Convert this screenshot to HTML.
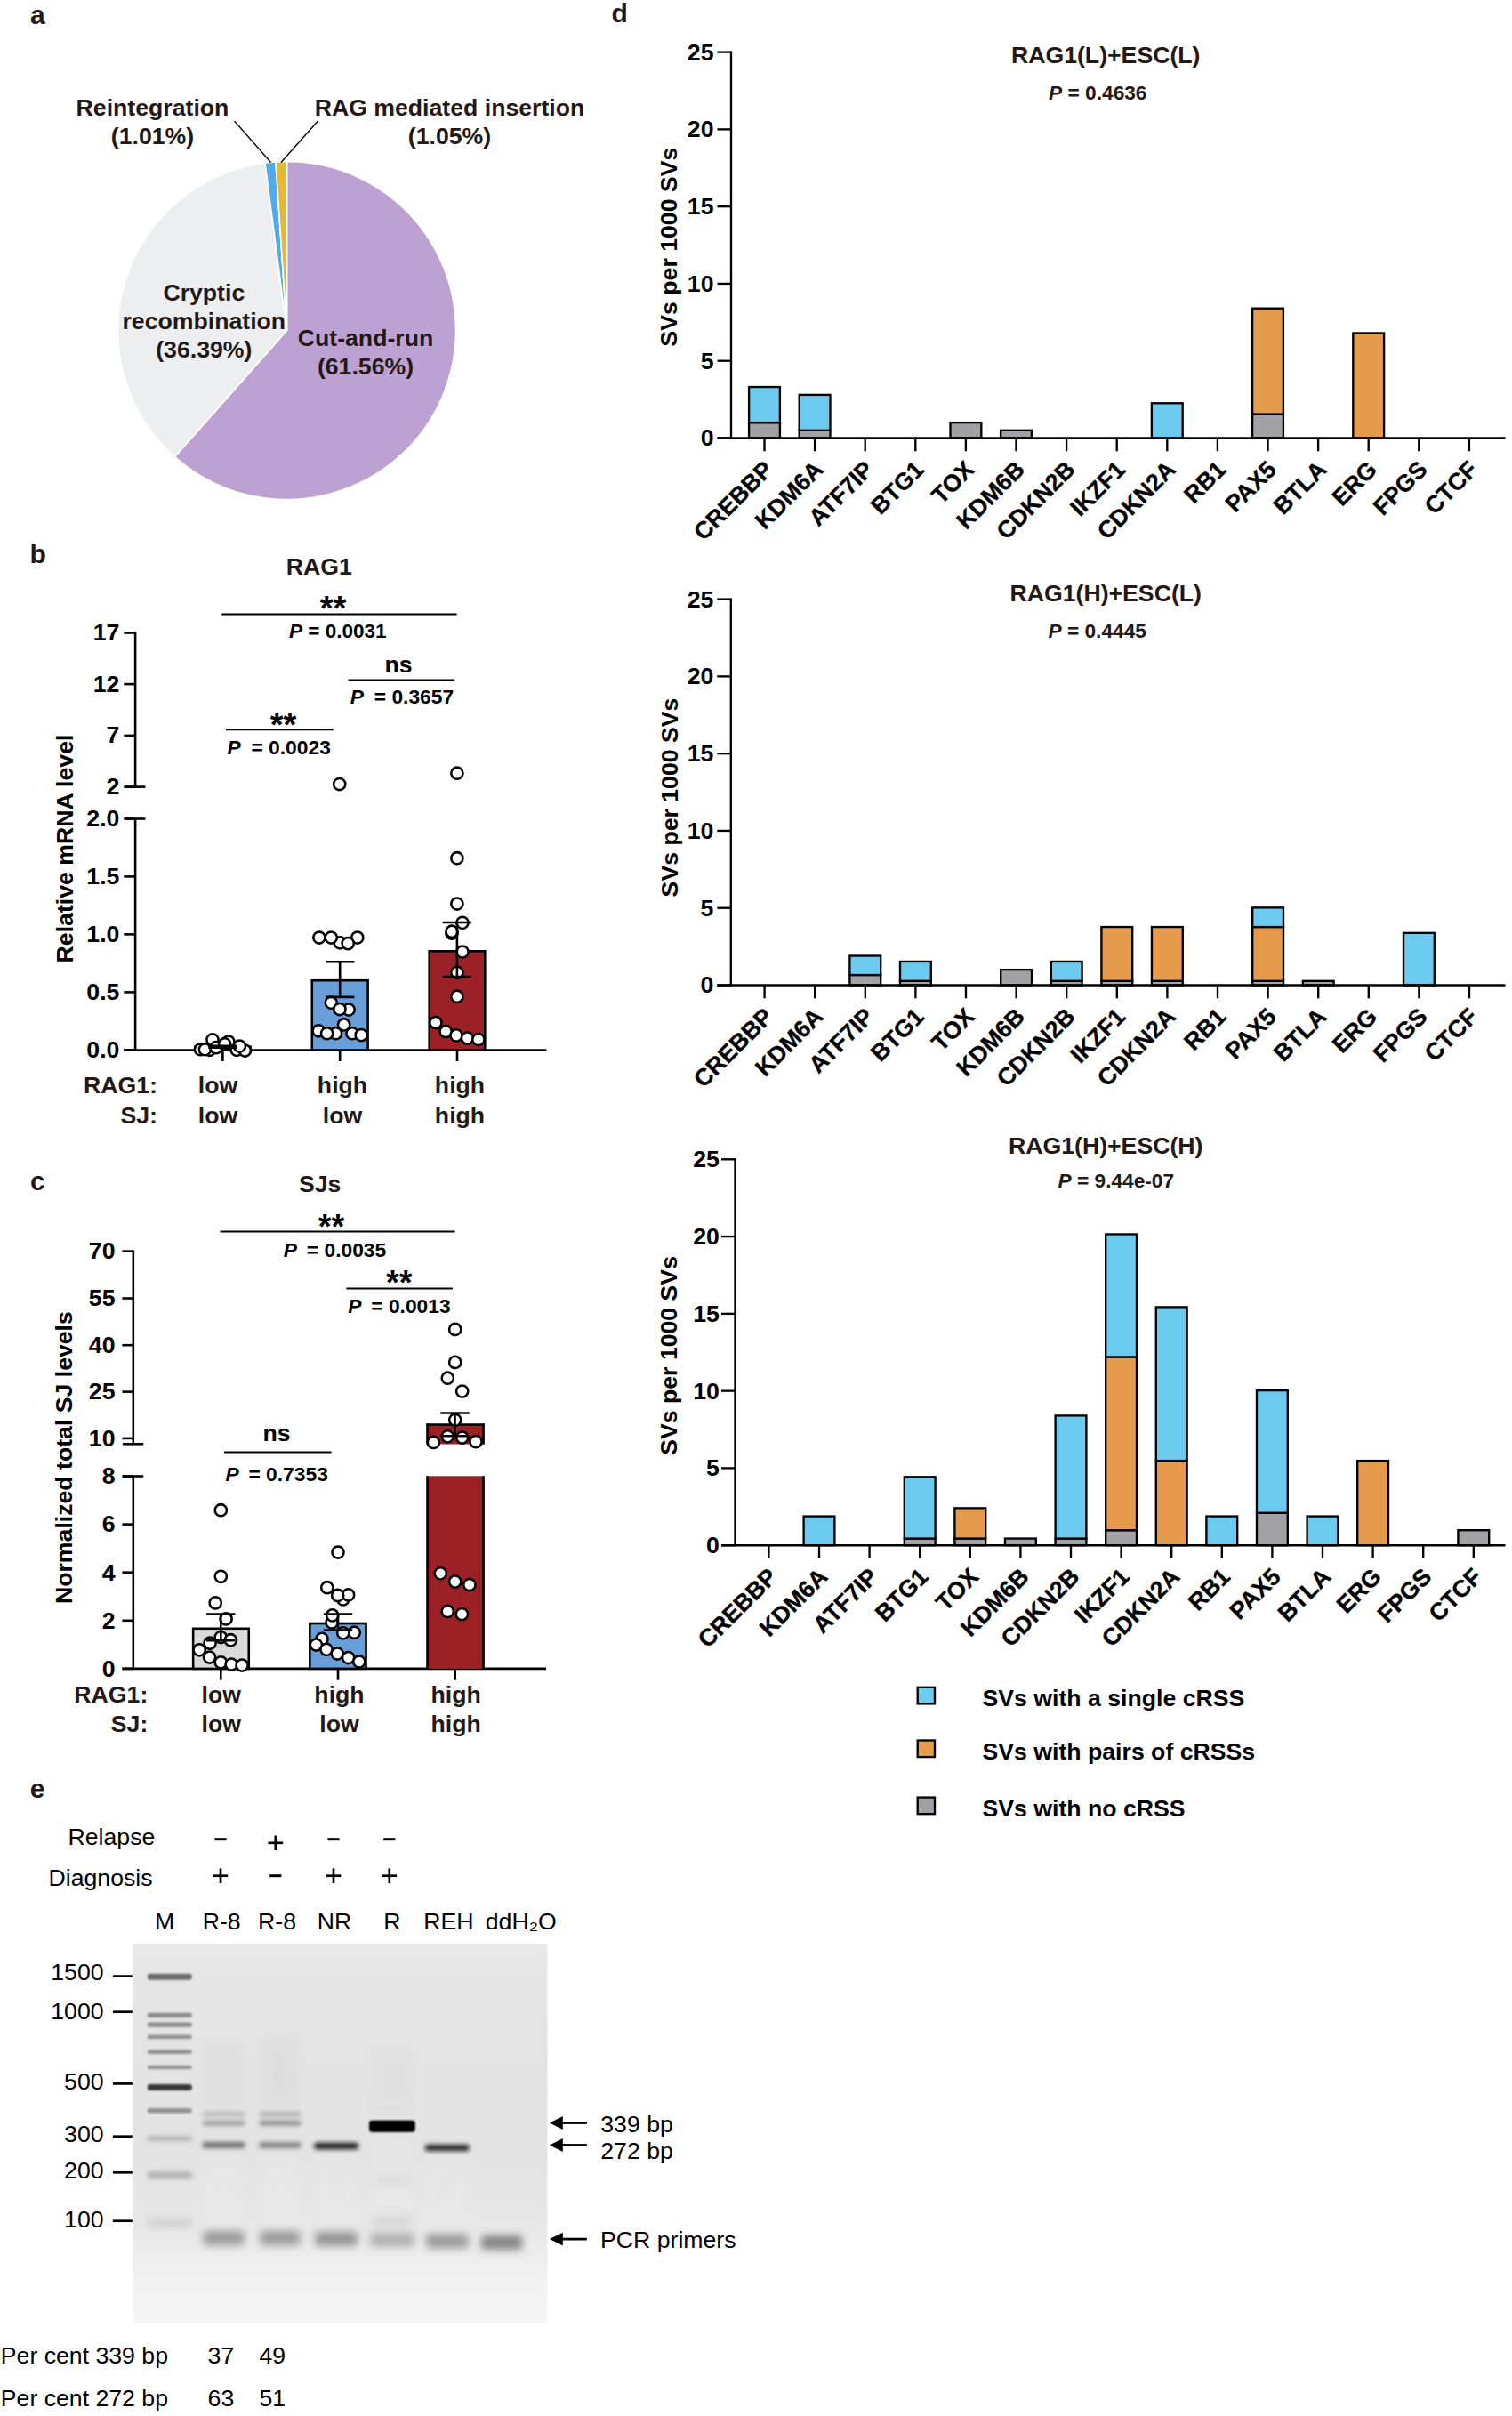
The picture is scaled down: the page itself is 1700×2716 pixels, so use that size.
<!DOCTYPE html>
<html lang="en"><head><meta charset="utf-8"><title>Figure</title>
<style>
html,body{margin:0;padding:0;background:#fff}
svg{display:block}
svg text{font-family:"Liberation Sans",sans-serif}
</style></head><body>
<svg width="1700" height="2716" viewBox="0 0 1700 2716">
<rect width="1700" height="2716" fill="#fff"/>
<text x="34.00" y="27.10" font-size="30" font-weight="bold" fill="#231815">a</text>
<text x="33.60" y="632.90" font-size="30" font-weight="bold" fill="#231815">b</text>
<text x="34.10" y="1338.40" font-size="30" font-weight="bold" fill="#231815">c</text>
<text x="687.50" y="25.20" font-size="30" font-weight="bold" fill="#231815">d</text>
<text x="33.80" y="2020.60" font-size="30" font-weight="bold" fill="#231815">e</text>
<path d="M322.5 371.5 L322.50 181.50 A190 190 0 1 1 196.37 513.60 Z" fill="#BCA1D2" stroke="#fff" stroke-width="1.6" stroke-linejoin="round"/>
<path d="M322.5 371.5 L196.37 513.60 A190 190 0 0 1 297.98 183.09 Z" fill="#EDEEEF" stroke="#fff" stroke-width="1.6" stroke-linejoin="round"/>
<path d="M322.5 371.5 L297.98 183.09 A190 190 0 0 1 309.98 181.91 Z" fill="#52AAE6" stroke="#fff" stroke-width="1.6" stroke-linejoin="round"/>
<path d="M322.5 371.5 L309.98 181.91 A190 190 0 0 1 322.50 181.50 Z" fill="#E3B935" stroke="#fff" stroke-width="1.6" stroke-linejoin="round"/>
<text x="171.50" y="130.40" font-size="26.67" text-anchor="middle" font-weight="bold" fill="#231815">Reintegration</text>
<text x="171.50" y="162.40" font-size="26.67" text-anchor="middle" font-weight="bold" fill="#231815">(1.01%)</text>
<text x="505.50" y="130.40" font-size="26.67" text-anchor="middle" font-weight="bold" fill="#231815">RAG mediated insertion</text>
<text x="505.50" y="162.40" font-size="26.67" text-anchor="middle" font-weight="bold" fill="#231815">(1.05%)</text>
<text x="229.30" y="337.70" font-size="26.67" text-anchor="middle" font-weight="bold" fill="#231815">Cryptic</text>
<text x="229.30" y="369.70" font-size="26.67" text-anchor="middle" font-weight="bold" fill="#231815">recombination</text>
<text x="229.30" y="402.30" font-size="26.67" text-anchor="middle" font-weight="bold" fill="#231815">(36.39%)</text>
<text x="411.00" y="389.20" font-size="26.67" text-anchor="middle" font-weight="bold" fill="#231815">Cut-and-run</text>
<text x="411.00" y="421.20" font-size="26.67" text-anchor="middle" font-weight="bold" fill="#231815">(61.56%)</text>
<line x1="263.50" y1="136.00" x2="304.50" y2="182.50" stroke="#000" stroke-width="1.3" stroke-linecap="butt"/>
<line x1="357.50" y1="136.00" x2="316.00" y2="182.50" stroke="#000" stroke-width="1.3" stroke-linecap="butt"/>
<text x="358.70" y="645.80" font-size="26.67" text-anchor="middle" font-weight="bold" fill="#231815">RAG1</text>
<line x1="152.10" y1="710.20" x2="152.10" y2="884.60" stroke="#000" stroke-width="2.6" stroke-linecap="butt"/>
<line x1="139.30" y1="711.50" x2="152.10" y2="711.50" stroke="#000" stroke-width="2.6" stroke-linecap="butt"/>
<text x="134.40" y="720.00" font-size="26.67" text-anchor="end" font-weight="bold" fill="#000">17</text>
<line x1="139.30" y1="769.10" x2="152.10" y2="769.10" stroke="#000" stroke-width="2.6" stroke-linecap="butt"/>
<text x="134.40" y="777.60" font-size="26.67" text-anchor="end" font-weight="bold" fill="#000">12</text>
<line x1="139.30" y1="826.90" x2="152.10" y2="826.90" stroke="#000" stroke-width="2.6" stroke-linecap="butt"/>
<text x="134.40" y="835.40" font-size="26.67" text-anchor="end" font-weight="bold" fill="#000">7</text>
<line x1="139.30" y1="884.60" x2="152.10" y2="884.60" stroke="#000" stroke-width="2.6" stroke-linecap="butt"/>
<text x="134.40" y="893.10" font-size="26.67" text-anchor="end" font-weight="bold" fill="#000">2</text>
<line x1="140.30" y1="884.60" x2="163.50" y2="884.60" stroke="#000" stroke-width="2.6" stroke-linecap="butt"/>
<line x1="152.10" y1="920.50" x2="152.10" y2="1181.70" stroke="#000" stroke-width="2.6" stroke-linecap="butt"/>
<line x1="140.30" y1="920.50" x2="163.50" y2="920.50" stroke="#000" stroke-width="2.6" stroke-linecap="butt"/>
<line x1="139.30" y1="920.50" x2="152.10" y2="920.50" stroke="#000" stroke-width="2.6" stroke-linecap="butt"/>
<text x="134.40" y="929.00" font-size="26.67" text-anchor="end" font-weight="bold" fill="#000">2.0</text>
<line x1="139.30" y1="985.40" x2="152.10" y2="985.40" stroke="#000" stroke-width="2.6" stroke-linecap="butt"/>
<text x="134.40" y="993.90" font-size="26.67" text-anchor="end" font-weight="bold" fill="#000">1.5</text>
<line x1="139.30" y1="1050.40" x2="152.10" y2="1050.40" stroke="#000" stroke-width="2.6" stroke-linecap="butt"/>
<text x="134.40" y="1058.90" font-size="26.67" text-anchor="end" font-weight="bold" fill="#000">1.0</text>
<line x1="139.30" y1="1115.40" x2="152.10" y2="1115.40" stroke="#000" stroke-width="2.6" stroke-linecap="butt"/>
<text x="134.40" y="1123.90" font-size="26.67" text-anchor="end" font-weight="bold" fill="#000">0.5</text>
<line x1="139.30" y1="1180.40" x2="152.10" y2="1180.40" stroke="#000" stroke-width="2.6" stroke-linecap="butt"/>
<text x="134.40" y="1188.90" font-size="26.67" text-anchor="end" font-weight="bold" fill="#000">0.0</text>
<line x1="139.30" y1="1180.50" x2="614.30" y2="1180.50" stroke="#000" stroke-width="2.6" stroke-linecap="butt"/>
<line x1="250.40" y1="1180.50" x2="250.40" y2="1193.00" stroke="#000" stroke-width="2.6" stroke-linecap="butt"/>
<line x1="382.20" y1="1180.50" x2="382.20" y2="1193.00" stroke="#000" stroke-width="2.6" stroke-linecap="butt"/>
<line x1="514.00" y1="1180.50" x2="514.00" y2="1193.00" stroke="#000" stroke-width="2.6" stroke-linecap="butt"/>
<text x="82.40" y="954.00" font-size="26.67" text-anchor="middle" font-weight="bold" transform="rotate(-90 82.40 954.00)" fill="#000">Relative mRNA level</text>
<rect x="219.30" y="1176.70" width="62.20" height="3.80" fill="#D9D9D9" stroke="#000" stroke-width="2.6"/>
<rect x="350.80" y="1102.20" width="62.80" height="78.30" fill="#6A9ED8" stroke="#000" stroke-width="2.6"/>
<rect x="482.70" y="1069.30" width="62.60" height="111.20" fill="#9C2127" stroke="#000" stroke-width="2.6"/>
<circle cx="235.7" cy="1180.3" r="6.6" fill="#fff" stroke="#000" stroke-width="2.55"/>
<circle cx="225.5" cy="1179.7" r="6.6" fill="#fff" stroke="#000" stroke-width="2.55"/>
<circle cx="230.4" cy="1179.7" r="6.6" fill="#fff" stroke="#000" stroke-width="2.55"/>
<circle cx="239.0" cy="1168.8" r="6.6" fill="#fff" stroke="#000" stroke-width="2.55"/>
<circle cx="243.0" cy="1177.7" r="6.6" fill="#fff" stroke="#000" stroke-width="2.55"/>
<circle cx="256.9" cy="1171.1" r="6.6" fill="#fff" stroke="#000" stroke-width="2.55"/>
<circle cx="252.6" cy="1173.7" r="6.6" fill="#fff" stroke="#000" stroke-width="2.55"/>
<circle cx="266.1" cy="1180.3" r="6.6" fill="#fff" stroke="#000" stroke-width="2.55"/>
<circle cx="275.4" cy="1181.0" r="6.6" fill="#fff" stroke="#000" stroke-width="2.55"/>
<circle cx="269.4" cy="1176.0" r="6.6" fill="#fff" stroke="#000" stroke-width="2.55"/>
<circle cx="358.2" cy="1158.8" r="6.6" fill="#fff" stroke="#000" stroke-width="2.55"/>
<circle cx="377.5" cy="1161.7" r="6.6" fill="#fff" stroke="#000" stroke-width="2.55"/>
<circle cx="367.6" cy="1161.7" r="6.6" fill="#fff" stroke="#000" stroke-width="2.55"/>
<circle cx="396.0" cy="1161.7" r="6.6" fill="#fff" stroke="#000" stroke-width="2.55"/>
<circle cx="406.2" cy="1163.6" r="6.6" fill="#fff" stroke="#000" stroke-width="2.55"/>
<circle cx="386.6" cy="1151.9" r="6.6" fill="#fff" stroke="#000" stroke-width="2.55"/>
<circle cx="372.3" cy="1127.2" r="6.6" fill="#fff" stroke="#000" stroke-width="2.55"/>
<circle cx="392.1" cy="1135.0" r="6.6" fill="#fff" stroke="#000" stroke-width="2.55"/>
<circle cx="381.9" cy="1134.5" r="6.6" fill="#fff" stroke="#000" stroke-width="2.55"/>
<circle cx="358.9" cy="1054.0" r="6.6" fill="#fff" stroke="#000" stroke-width="2.55"/>
<circle cx="382.2" cy="1059.8" r="6.6" fill="#fff" stroke="#000" stroke-width="2.55"/>
<circle cx="401.8" cy="1054.0" r="6.6" fill="#fff" stroke="#000" stroke-width="2.55"/>
<circle cx="372.3" cy="1054.0" r="6.6" fill="#fff" stroke="#000" stroke-width="2.55"/>
<circle cx="391.2" cy="1060.6" r="6.6" fill="#fff" stroke="#000" stroke-width="2.55"/>
<circle cx="381.7" cy="881.5" r="6.6" fill="#fff" stroke="#000" stroke-width="2.55"/>
<circle cx="489.9" cy="1149.6" r="6.6" fill="#fff" stroke="#000" stroke-width="2.55"/>
<circle cx="501.2" cy="1159.5" r="6.6" fill="#fff" stroke="#000" stroke-width="2.55"/>
<circle cx="513.1" cy="1163.9" r="6.6" fill="#fff" stroke="#000" stroke-width="2.55"/>
<circle cx="525.5" cy="1167.1" r="6.6" fill="#fff" stroke="#000" stroke-width="2.55"/>
<circle cx="537.9" cy="1168.5" r="6.6" fill="#fff" stroke="#000" stroke-width="2.55"/>
<circle cx="513.9" cy="1120.2" r="6.6" fill="#fff" stroke="#000" stroke-width="2.55"/>
<circle cx="513.9" cy="1093.3" r="6.6" fill="#fff" stroke="#000" stroke-width="2.55"/>
<circle cx="520.0" cy="1070.0" r="6.6" fill="#fff" stroke="#000" stroke-width="2.55"/>
<circle cx="508.0" cy="1049.2" r="6.6" fill="#fff" stroke="#000" stroke-width="2.55"/>
<circle cx="508.0" cy="1047.2" r="6.6" fill="#fff" stroke="#000" stroke-width="2.55"/>
<circle cx="520.0" cy="1037.3" r="6.6" fill="#fff" stroke="#000" stroke-width="2.55"/>
<circle cx="513.9" cy="1016.0" r="6.6" fill="#fff" stroke="#000" stroke-width="2.55"/>
<circle cx="513.9" cy="964.7" r="6.6" fill="#fff" stroke="#000" stroke-width="2.55"/>
<circle cx="513.9" cy="869.2" r="6.6" fill="#fff" stroke="#000" stroke-width="2.55"/>
<line x1="250.40" y1="1175.70" x2="250.40" y2="1177.70" stroke="#000" stroke-width="2.6" stroke-linecap="butt"/>
<line x1="234.20" y1="1175.70" x2="266.60" y2="1175.70" stroke="#000" stroke-width="2.6" stroke-linecap="butt"/>
<line x1="234.20" y1="1177.70" x2="266.60" y2="1177.70" stroke="#000" stroke-width="2.6" stroke-linecap="butt"/>
<line x1="382.20" y1="1081.20" x2="382.20" y2="1120.90" stroke="#000" stroke-width="2.6" stroke-linecap="butt"/>
<line x1="366.00" y1="1081.20" x2="398.40" y2="1081.20" stroke="#000" stroke-width="2.6" stroke-linecap="butt"/>
<line x1="366.00" y1="1120.90" x2="398.40" y2="1120.90" stroke="#000" stroke-width="2.6" stroke-linecap="butt"/>
<line x1="513.90" y1="1037.00" x2="513.90" y2="1098.00" stroke="#000" stroke-width="2.6" stroke-linecap="butt"/>
<line x1="497.70" y1="1037.00" x2="530.10" y2="1037.00" stroke="#000" stroke-width="2.6" stroke-linecap="butt"/>
<line x1="497.70" y1="1098.00" x2="530.10" y2="1098.00" stroke="#000" stroke-width="2.6" stroke-linecap="butt"/>
<line x1="249.20" y1="690.60" x2="513.70" y2="690.60" stroke="#000" stroke-width="2" stroke-linecap="butt"/>
<text x="374.50" y="696.70" font-size="38" text-anchor="middle" font-weight="bold" fill="#000">**</text>
<text x="325.00" y="716.80" font-size="22.5" font-weight="bold" fill="#000"><tspan font-style="italic">P</tspan><tspan dx="0"> = 0.0031</tspan></text>
<line x1="391.50" y1="764.60" x2="511.10" y2="764.60" stroke="#000" stroke-width="2" stroke-linecap="butt"/>
<text x="448.00" y="755.70" font-size="26.67" text-anchor="middle" font-weight="bold" fill="#000">ns</text>
<text x="393.70" y="791.20" font-size="22.8" font-weight="bold" fill="#000"><tspan font-style="italic">P</tspan><tspan dx="5.5"> = 0.3657</tspan></text>
<line x1="254.00" y1="820.30" x2="374.70" y2="820.30" stroke="#000" stroke-width="2" stroke-linecap="butt"/>
<text x="318.60" y="828.40" font-size="38" text-anchor="middle" font-weight="bold" fill="#000">**</text>
<text x="255.40" y="848.40" font-size="22.8" font-weight="bold" fill="#000"><tspan font-style="italic">P</tspan><tspan dx="5.5"> = 0.0023</tspan></text>
<text x="177.00" y="1229.40" font-size="26.67" text-anchor="end" font-weight="bold" fill="#231815">RAG1:</text>
<text x="177.00" y="1262.70" font-size="26.67" text-anchor="end" font-weight="bold" fill="#231815">SJ:</text>
<text x="245.00" y="1229.40" font-size="26.67" text-anchor="middle" font-weight="bold" fill="#231815">low</text>
<text x="245.00" y="1262.70" font-size="26.67" text-anchor="middle" font-weight="bold" fill="#231815">low</text>
<text x="385.00" y="1229.40" font-size="26.67" text-anchor="middle" font-weight="bold" fill="#231815">high</text>
<text x="385.00" y="1262.70" font-size="26.67" text-anchor="middle" font-weight="bold" fill="#231815">low</text>
<text x="517.00" y="1229.40" font-size="26.67" text-anchor="middle" font-weight="bold" fill="#231815">high</text>
<text x="517.00" y="1262.70" font-size="26.67" text-anchor="middle" font-weight="bold" fill="#231815">high</text>
<text x="359.60" y="1339.70" font-size="26.67" text-anchor="middle" font-weight="bold" fill="#231815">SJs</text>
<line x1="149.80" y1="1405.50" x2="149.80" y2="1623.30" stroke="#000" stroke-width="2.6" stroke-linecap="butt"/>
<line x1="137.40" y1="1406.60" x2="149.80" y2="1406.60" stroke="#000" stroke-width="2.6" stroke-linecap="butt"/>
<text x="129.50" y="1415.40" font-size="26.67" text-anchor="end" font-weight="bold" fill="#000">70</text>
<line x1="137.40" y1="1459.50" x2="149.80" y2="1459.50" stroke="#000" stroke-width="2.6" stroke-linecap="butt"/>
<text x="129.50" y="1468.30" font-size="26.67" text-anchor="end" font-weight="bold" fill="#000">55</text>
<line x1="137.40" y1="1512.20" x2="149.80" y2="1512.20" stroke="#000" stroke-width="2.6" stroke-linecap="butt"/>
<text x="129.50" y="1521.00" font-size="26.67" text-anchor="end" font-weight="bold" fill="#000">40</text>
<line x1="137.40" y1="1564.60" x2="149.80" y2="1564.60" stroke="#000" stroke-width="2.6" stroke-linecap="butt"/>
<text x="129.50" y="1573.40" font-size="26.67" text-anchor="end" font-weight="bold" fill="#000">25</text>
<line x1="137.40" y1="1616.90" x2="149.80" y2="1616.90" stroke="#000" stroke-width="2.6" stroke-linecap="butt"/>
<text x="129.50" y="1625.70" font-size="26.67" text-anchor="end" font-weight="bold" fill="#000">10</text>
<line x1="137.90" y1="1623.30" x2="161.20" y2="1623.30" stroke="#000" stroke-width="2.6" stroke-linecap="butt"/>
<line x1="149.80" y1="1659.50" x2="149.80" y2="1877.00" stroke="#000" stroke-width="2.6" stroke-linecap="butt"/>
<line x1="137.90" y1="1659.50" x2="161.20" y2="1659.50" stroke="#000" stroke-width="2.6" stroke-linecap="butt"/>
<line x1="137.40" y1="1659.50" x2="149.80" y2="1659.50" stroke="#000" stroke-width="2.6" stroke-linecap="butt"/>
<text x="129.50" y="1668.30" font-size="26.67" text-anchor="end" font-weight="bold" fill="#000">8</text>
<line x1="137.40" y1="1713.60" x2="149.80" y2="1713.60" stroke="#000" stroke-width="2.6" stroke-linecap="butt"/>
<text x="129.50" y="1722.40" font-size="26.67" text-anchor="end" font-weight="bold" fill="#000">6</text>
<line x1="137.40" y1="1767.70" x2="149.80" y2="1767.70" stroke="#000" stroke-width="2.6" stroke-linecap="butt"/>
<text x="129.50" y="1776.50" font-size="26.67" text-anchor="end" font-weight="bold" fill="#000">4</text>
<line x1="137.40" y1="1821.80" x2="149.80" y2="1821.80" stroke="#000" stroke-width="2.6" stroke-linecap="butt"/>
<text x="129.50" y="1830.60" font-size="26.67" text-anchor="end" font-weight="bold" fill="#000">2</text>
<line x1="137.40" y1="1875.90" x2="149.80" y2="1875.90" stroke="#000" stroke-width="2.6" stroke-linecap="butt"/>
<text x="129.50" y="1884.70" font-size="26.67" text-anchor="end" font-weight="bold" fill="#000">0</text>
<line x1="137.40" y1="1875.90" x2="614.00" y2="1875.90" stroke="#000" stroke-width="2.6" stroke-linecap="butt"/>
<line x1="248.30" y1="1875.90" x2="248.30" y2="1888.70" stroke="#000" stroke-width="2.6" stroke-linecap="butt"/>
<line x1="380.00" y1="1875.90" x2="380.00" y2="1888.70" stroke="#000" stroke-width="2.6" stroke-linecap="butt"/>
<line x1="511.70" y1="1875.90" x2="511.70" y2="1888.70" stroke="#000" stroke-width="2.6" stroke-linecap="butt"/>
<text x="81.00" y="1638.60" font-size="26.67" text-anchor="middle" font-weight="bold" transform="rotate(-90 81.00 1638.60)" fill="#000">Normalized total SJ levels</text>
<rect x="217.15" y="1830.80" width="62.60" height="45.10" fill="#D9D9D9" stroke="#000" stroke-width="2.6"/>
<rect x="348.35" y="1825.00" width="63.20" height="50.90" fill="#6A9ED8" stroke="#000" stroke-width="2.6"/>
<rect x="479.5" y="1659.3" width="65.1" height="216.6" fill="#9C2127"/>
<line x1="480.60" y1="1659.30" x2="480.60" y2="1875.90" stroke="#000" stroke-width="2.6" stroke-linecap="butt"/>
<line x1="543.50" y1="1659.30" x2="543.50" y2="1875.90" stroke="#000" stroke-width="2.6" stroke-linecap="butt"/>
<rect x="479.5" y="1601.5" width="65.1" height="22" fill="#9C2127"/>
<line x1="480.60" y1="1600.40" x2="480.60" y2="1623.50" stroke="#000" stroke-width="2.6" stroke-linecap="butt"/>
<line x1="543.50" y1="1600.40" x2="543.50" y2="1623.50" stroke="#000" stroke-width="2.6" stroke-linecap="butt"/>
<line x1="479.50" y1="1601.50" x2="544.60" y2="1601.50" stroke="#000" stroke-width="2.6" stroke-linecap="butt"/>
<circle cx="224.2" cy="1854.8" r="6.6" fill="#fff" stroke="#000" stroke-width="2.55"/>
<circle cx="235.6" cy="1863.0" r="6.6" fill="#fff" stroke="#000" stroke-width="2.55"/>
<circle cx="248.3" cy="1868.8" r="6.6" fill="#fff" stroke="#000" stroke-width="2.55"/>
<circle cx="260.2" cy="1871.0" r="6.6" fill="#fff" stroke="#000" stroke-width="2.55"/>
<circle cx="272.1" cy="1872.0" r="6.6" fill="#fff" stroke="#000" stroke-width="2.55"/>
<circle cx="236.1" cy="1847.1" r="6.6" fill="#fff" stroke="#000" stroke-width="2.55"/>
<circle cx="248.3" cy="1840.5" r="6.6" fill="#fff" stroke="#000" stroke-width="2.55"/>
<circle cx="259.4" cy="1843.7" r="6.6" fill="#fff" stroke="#000" stroke-width="2.55"/>
<circle cx="254.1" cy="1819.9" r="6.6" fill="#fff" stroke="#000" stroke-width="2.55"/>
<circle cx="242.2" cy="1801.9" r="6.6" fill="#fff" stroke="#000" stroke-width="2.55"/>
<circle cx="248.3" cy="1772.3" r="6.6" fill="#fff" stroke="#000" stroke-width="2.55"/>
<circle cx="248.3" cy="1697.7" r="6.6" fill="#fff" stroke="#000" stroke-width="2.55"/>
<circle cx="362.0" cy="1842.4" r="6.6" fill="#fff" stroke="#000" stroke-width="2.55"/>
<circle cx="355.4" cy="1849.0" r="6.6" fill="#fff" stroke="#000" stroke-width="2.55"/>
<circle cx="367.0" cy="1854.3" r="6.6" fill="#fff" stroke="#000" stroke-width="2.55"/>
<circle cx="379.2" cy="1859.0" r="6.6" fill="#fff" stroke="#000" stroke-width="2.55"/>
<circle cx="391.6" cy="1863.5" r="6.6" fill="#fff" stroke="#000" stroke-width="2.55"/>
<circle cx="403.8" cy="1868.0" r="6.6" fill="#fff" stroke="#000" stroke-width="2.55"/>
<circle cx="398.3" cy="1835.2" r="6.6" fill="#fff" stroke="#000" stroke-width="2.55"/>
<circle cx="385.8" cy="1835.8" r="6.6" fill="#fff" stroke="#000" stroke-width="2.55"/>
<circle cx="373.1" cy="1823.9" r="6.6" fill="#fff" stroke="#000" stroke-width="2.55"/>
<circle cx="373.7" cy="1815.9" r="6.6" fill="#fff" stroke="#000" stroke-width="2.55"/>
<circle cx="385.8" cy="1797.9" r="6.6" fill="#fff" stroke="#000" stroke-width="2.55"/>
<circle cx="391.6" cy="1792.9" r="6.6" fill="#fff" stroke="#000" stroke-width="2.55"/>
<circle cx="379.7" cy="1793.4" r="6.6" fill="#fff" stroke="#000" stroke-width="2.55"/>
<circle cx="367.8" cy="1784.7" r="6.6" fill="#fff" stroke="#000" stroke-width="2.55"/>
<circle cx="380.0" cy="1745.0" r="6.6" fill="#fff" stroke="#000" stroke-width="2.55"/>
<circle cx="495.3" cy="1768.8" r="6.6" fill="#fff" stroke="#000" stroke-width="2.55"/>
<circle cx="511.7" cy="1778.1" r="6.6" fill="#fff" stroke="#000" stroke-width="2.55"/>
<circle cx="527.9" cy="1781.5" r="6.6" fill="#fff" stroke="#000" stroke-width="2.55"/>
<circle cx="503.3" cy="1811.4" r="6.6" fill="#fff" stroke="#000" stroke-width="2.55"/>
<circle cx="519.4" cy="1814.6" r="6.6" fill="#fff" stroke="#000" stroke-width="2.55"/>
<circle cx="487.4" cy="1621.4" r="6.6" fill="#fff" stroke="#000" stroke-width="2.55"/>
<circle cx="535.0" cy="1620.6" r="6.6" fill="#fff" stroke="#000" stroke-width="2.55"/>
<circle cx="503.3" cy="1614.8" r="6.6" fill="#fff" stroke="#000" stroke-width="2.55"/>
<circle cx="519.7" cy="1616.1" r="6.6" fill="#fff" stroke="#000" stroke-width="2.55"/>
<circle cx="511.7" cy="1596.2" r="6.6" fill="#fff" stroke="#000" stroke-width="2.55"/>
<circle cx="519.7" cy="1564.0" r="6.6" fill="#fff" stroke="#000" stroke-width="2.55"/>
<circle cx="503.3" cy="1549.2" r="6.6" fill="#fff" stroke="#000" stroke-width="2.55"/>
<circle cx="511.7" cy="1531.4" r="6.6" fill="#fff" stroke="#000" stroke-width="2.55"/>
<circle cx="511.7" cy="1494.4" r="6.6" fill="#fff" stroke="#000" stroke-width="2.55"/>
<line x1="248.30" y1="1814.60" x2="248.30" y2="1844.20" stroke="#000" stroke-width="2.6" stroke-linecap="butt"/>
<line x1="232.10" y1="1814.60" x2="264.50" y2="1814.60" stroke="#000" stroke-width="2.6" stroke-linecap="butt"/>
<line x1="232.10" y1="1844.20" x2="264.50" y2="1844.20" stroke="#000" stroke-width="2.6" stroke-linecap="butt"/>
<line x1="380.00" y1="1814.60" x2="380.00" y2="1832.60" stroke="#000" stroke-width="2.6" stroke-linecap="butt"/>
<line x1="363.80" y1="1814.60" x2="396.20" y2="1814.60" stroke="#000" stroke-width="2.6" stroke-linecap="butt"/>
<line x1="363.80" y1="1832.60" x2="396.20" y2="1832.60" stroke="#000" stroke-width="2.6" stroke-linecap="butt"/>
<line x1="511.50" y1="1588.50" x2="511.50" y2="1614.20" stroke="#000" stroke-width="2.6" stroke-linecap="butt"/>
<line x1="495.30" y1="1588.50" x2="527.70" y2="1588.50" stroke="#000" stroke-width="2.6" stroke-linecap="butt"/>
<line x1="495.30" y1="1614.20" x2="527.70" y2="1614.20" stroke="#000" stroke-width="2.6" stroke-linecap="butt"/>
<line x1="247.50" y1="1384.50" x2="511.50" y2="1384.50" stroke="#000" stroke-width="2" stroke-linecap="butt"/>
<text x="372.60" y="1391.50" font-size="38" text-anchor="middle" font-weight="bold" fill="#000">**</text>
<text x="318.80" y="1412.60" font-size="22.8" font-weight="bold" fill="#000"><tspan font-style="italic">P</tspan><tspan dx="4.5"> = 0.0035</tspan></text>
<line x1="389.30" y1="1448.60" x2="508.90" y2="1448.60" stroke="#000" stroke-width="2" stroke-linecap="butt"/>
<text x="448.70" y="1454.80" font-size="38" text-anchor="middle" font-weight="bold" fill="#000">**</text>
<text x="391.20" y="1475.50" font-size="22.8" font-weight="bold" fill="#000"><tspan font-style="italic">P</tspan><tspan dx="4.5"> = 0.0013</tspan></text>
<line x1="252.00" y1="1632.50" x2="372.60" y2="1632.50" stroke="#000" stroke-width="2" stroke-linecap="butt"/>
<text x="311.00" y="1620.00" font-size="26.67" text-anchor="middle" font-weight="bold" fill="#000">ns</text>
<text x="253.40" y="1665.10" font-size="22.8" font-weight="bold" fill="#000"><tspan font-style="italic">P</tspan><tspan dx="4.5"> = 0.7353</tspan></text>
<text x="166.30" y="1914.00" font-size="26.67" text-anchor="end" font-weight="bold" fill="#231815">RAG1:</text>
<text x="166.30" y="1946.60" font-size="26.67" text-anchor="end" font-weight="bold" fill="#231815">SJ:</text>
<text x="248.80" y="1914.00" font-size="26.67" text-anchor="middle" font-weight="bold" fill="#231815">low</text>
<text x="248.80" y="1946.60" font-size="26.67" text-anchor="middle" font-weight="bold" fill="#231815">low</text>
<text x="381.50" y="1914.00" font-size="26.67" text-anchor="middle" font-weight="bold" fill="#231815">high</text>
<text x="381.50" y="1946.60" font-size="26.67" text-anchor="middle" font-weight="bold" fill="#231815">low</text>
<text x="512.70" y="1914.00" font-size="26.67" text-anchor="middle" font-weight="bold" fill="#231815">high</text>
<text x="512.70" y="1946.60" font-size="26.67" text-anchor="middle" font-weight="bold" fill="#231815">high</text>
<rect x="842.10" y="475.14" width="34.80" height="17.36" fill="#A2A1A6" stroke="#000" stroke-width="2.35"/>
<rect x="842.10" y="435.05" width="34.80" height="40.09" fill="#6DCAEF" stroke="#000" stroke-width="2.35"/>
<rect x="898.70" y="483.82" width="34.80" height="8.68" fill="#A2A1A6" stroke="#000" stroke-width="2.35"/>
<rect x="898.70" y="443.90" width="34.80" height="39.92" fill="#6DCAEF" stroke="#000" stroke-width="2.35"/>
<rect x="1068.50" y="475.14" width="34.80" height="17.36" fill="#A2A1A6" stroke="#000" stroke-width="2.35"/>
<rect x="1125.10" y="483.82" width="34.80" height="8.68" fill="#A2A1A6" stroke="#000" stroke-width="2.35"/>
<rect x="1294.90" y="453.28" width="34.80" height="39.22" fill="#6DCAEF" stroke="#000" stroke-width="2.35"/>
<rect x="1408.10" y="465.60" width="34.80" height="26.90" fill="#A2A1A6" stroke="#000" stroke-width="2.35"/>
<rect x="1408.10" y="346.71" width="34.80" height="118.89" fill="#E69A4B" stroke="#000" stroke-width="2.35"/>
<rect x="1521.30" y="374.48" width="34.80" height="118.02" fill="#E69A4B" stroke="#000" stroke-width="2.35"/>
<line x1="822.00" y1="57.50" x2="822.00" y2="493.60" stroke="#000" stroke-width="2.35" stroke-linecap="butt"/>
<line x1="806.50" y1="492.50" x2="822.00" y2="492.50" stroke="#000" stroke-width="2.35" stroke-linecap="butt"/>
<text x="802.50" y="501.40" font-size="26.67" text-anchor="end" font-weight="bold" fill="#000">0</text>
<line x1="806.50" y1="405.72" x2="822.00" y2="405.72" stroke="#000" stroke-width="2.35" stroke-linecap="butt"/>
<text x="802.50" y="414.62" font-size="26.67" text-anchor="end" font-weight="bold" fill="#000">5</text>
<line x1="806.50" y1="318.94" x2="822.00" y2="318.94" stroke="#000" stroke-width="2.35" stroke-linecap="butt"/>
<text x="802.50" y="327.84" font-size="26.67" text-anchor="end" font-weight="bold" fill="#000">10</text>
<line x1="806.50" y1="232.16" x2="822.00" y2="232.16" stroke="#000" stroke-width="2.35" stroke-linecap="butt"/>
<text x="802.50" y="241.06" font-size="26.67" text-anchor="end" font-weight="bold" fill="#000">15</text>
<line x1="806.50" y1="145.38" x2="822.00" y2="145.38" stroke="#000" stroke-width="2.35" stroke-linecap="butt"/>
<text x="802.50" y="154.28" font-size="26.67" text-anchor="end" font-weight="bold" fill="#000">20</text>
<line x1="806.50" y1="58.60" x2="822.00" y2="58.60" stroke="#000" stroke-width="2.35" stroke-linecap="butt"/>
<text x="802.50" y="67.50" font-size="26.67" text-anchor="end" font-weight="bold" fill="#000">25</text>
<line x1="806.50" y1="492.50" x2="1692.50" y2="492.50" stroke="#000" stroke-width="2.35" stroke-linecap="butt"/>
<line x1="859.50" y1="492.50" x2="859.50" y2="507.30" stroke="#000" stroke-width="2.35" stroke-linecap="butt"/>
<text x="870.50" y="529.50" font-size="26.67" text-anchor="end" font-weight="bold" transform="rotate(-45 870.50 529.50)" fill="#000" stroke="#000" stroke-width="0.35">CREBBP</text>
<line x1="916.10" y1="492.50" x2="916.10" y2="507.30" stroke="#000" stroke-width="2.35" stroke-linecap="butt"/>
<text x="927.10" y="529.50" font-size="26.67" text-anchor="end" font-weight="bold" transform="rotate(-45 927.10 529.50)" fill="#000" stroke="#000" stroke-width="0.35">KDM6A</text>
<line x1="972.70" y1="492.50" x2="972.70" y2="507.30" stroke="#000" stroke-width="2.35" stroke-linecap="butt"/>
<text x="983.70" y="529.50" font-size="26.67" text-anchor="end" font-weight="bold" transform="rotate(-45 983.70 529.50)" fill="#000" stroke="#000" stroke-width="0.35">ATF7IP</text>
<line x1="1029.30" y1="492.50" x2="1029.30" y2="507.30" stroke="#000" stroke-width="2.35" stroke-linecap="butt"/>
<text x="1040.30" y="529.50" font-size="26.67" text-anchor="end" font-weight="bold" transform="rotate(-45 1040.30 529.50)" fill="#000" stroke="#000" stroke-width="0.35">BTG1</text>
<line x1="1085.90" y1="492.50" x2="1085.90" y2="507.30" stroke="#000" stroke-width="2.35" stroke-linecap="butt"/>
<text x="1096.90" y="529.50" font-size="26.67" text-anchor="end" font-weight="bold" transform="rotate(-45 1096.90 529.50)" fill="#000" stroke="#000" stroke-width="0.35">TOX</text>
<line x1="1142.50" y1="492.50" x2="1142.50" y2="507.30" stroke="#000" stroke-width="2.35" stroke-linecap="butt"/>
<text x="1153.50" y="529.50" font-size="26.67" text-anchor="end" font-weight="bold" transform="rotate(-45 1153.50 529.50)" fill="#000" stroke="#000" stroke-width="0.35">KDM6B</text>
<line x1="1199.10" y1="492.50" x2="1199.10" y2="507.30" stroke="#000" stroke-width="2.35" stroke-linecap="butt"/>
<text x="1210.10" y="529.50" font-size="26.67" text-anchor="end" font-weight="bold" transform="rotate(-45 1210.10 529.50)" fill="#000" stroke="#000" stroke-width="0.35">CDKN2B</text>
<line x1="1255.70" y1="492.50" x2="1255.70" y2="507.30" stroke="#000" stroke-width="2.35" stroke-linecap="butt"/>
<text x="1266.70" y="529.50" font-size="26.67" text-anchor="end" font-weight="bold" transform="rotate(-45 1266.70 529.50)" fill="#000" stroke="#000" stroke-width="0.35">IKZF1</text>
<line x1="1312.30" y1="492.50" x2="1312.30" y2="507.30" stroke="#000" stroke-width="2.35" stroke-linecap="butt"/>
<text x="1323.30" y="529.50" font-size="26.67" text-anchor="end" font-weight="bold" transform="rotate(-45 1323.30 529.50)" fill="#000" stroke="#000" stroke-width="0.35">CDKN2A</text>
<line x1="1368.90" y1="492.50" x2="1368.90" y2="507.30" stroke="#000" stroke-width="2.35" stroke-linecap="butt"/>
<text x="1379.90" y="529.50" font-size="26.67" text-anchor="end" font-weight="bold" transform="rotate(-45 1379.90 529.50)" fill="#000" stroke="#000" stroke-width="0.35">RB1</text>
<line x1="1425.50" y1="492.50" x2="1425.50" y2="507.30" stroke="#000" stroke-width="2.35" stroke-linecap="butt"/>
<text x="1436.50" y="529.50" font-size="26.67" text-anchor="end" font-weight="bold" transform="rotate(-45 1436.50 529.50)" fill="#000" stroke="#000" stroke-width="0.35">PAX5</text>
<line x1="1482.10" y1="492.50" x2="1482.10" y2="507.30" stroke="#000" stroke-width="2.35" stroke-linecap="butt"/>
<text x="1493.10" y="529.50" font-size="26.67" text-anchor="end" font-weight="bold" transform="rotate(-45 1493.10 529.50)" fill="#000" stroke="#000" stroke-width="0.35">BTLA</text>
<line x1="1538.70" y1="492.50" x2="1538.70" y2="507.30" stroke="#000" stroke-width="2.35" stroke-linecap="butt"/>
<text x="1549.70" y="529.50" font-size="26.67" text-anchor="end" font-weight="bold" transform="rotate(-45 1549.70 529.50)" fill="#000" stroke="#000" stroke-width="0.35">ERG</text>
<line x1="1595.30" y1="492.50" x2="1595.30" y2="507.30" stroke="#000" stroke-width="2.35" stroke-linecap="butt"/>
<text x="1606.30" y="529.50" font-size="26.67" text-anchor="end" font-weight="bold" transform="rotate(-45 1606.30 529.50)" fill="#000" stroke="#000" stroke-width="0.35">FPGS</text>
<line x1="1651.90" y1="492.50" x2="1651.90" y2="507.30" stroke="#000" stroke-width="2.35" stroke-linecap="butt"/>
<text x="1662.90" y="529.50" font-size="26.67" text-anchor="end" font-weight="bold" transform="rotate(-45 1662.90 529.50)" fill="#000" stroke="#000" stroke-width="0.35">CTCF</text>
<text x="761.50" y="277.60" font-size="26.67" text-anchor="middle" font-weight="bold" transform="rotate(-90 761.50 277.60)" fill="#000">SVs per 1000 SVs</text>
<text x="1243.20" y="70.60" font-size="26.67" text-anchor="middle" font-weight="bold" fill="#231815">RAG1(L)+ESC(L)</text>
<text x="1234.3" y="111.5" font-size="22.7" font-weight="bold" fill="#231815" text-anchor="middle"><tspan font-style="italic">P</tspan> = 0.4636</text>
<rect x="955.40" y="1096.05" width="34.80" height="11.45" fill="#A2A1A6" stroke="#000" stroke-width="2.35"/>
<rect x="955.40" y="1074.52" width="34.80" height="21.52" fill="#6DCAEF" stroke="#000" stroke-width="2.35"/>
<rect x="1012.00" y="1102.81" width="34.80" height="4.69" fill="#A2A1A6" stroke="#000" stroke-width="2.35"/>
<rect x="1012.00" y="1080.95" width="34.80" height="21.87" fill="#6DCAEF" stroke="#000" stroke-width="2.35"/>
<rect x="1125.20" y="1090.14" width="34.80" height="17.36" fill="#A2A1A6" stroke="#000" stroke-width="2.35"/>
<rect x="1181.80" y="1102.81" width="34.80" height="4.69" fill="#A2A1A6" stroke="#000" stroke-width="2.35"/>
<rect x="1181.80" y="1080.95" width="34.80" height="21.87" fill="#6DCAEF" stroke="#000" stroke-width="2.35"/>
<rect x="1238.40" y="1102.81" width="34.80" height="4.69" fill="#A2A1A6" stroke="#000" stroke-width="2.35"/>
<rect x="1238.40" y="1042.07" width="34.80" height="60.75" fill="#E69A4B" stroke="#000" stroke-width="2.35"/>
<rect x="1295.00" y="1102.81" width="34.80" height="4.69" fill="#A2A1A6" stroke="#000" stroke-width="2.35"/>
<rect x="1295.00" y="1042.07" width="34.80" height="60.75" fill="#E69A4B" stroke="#000" stroke-width="2.35"/>
<rect x="1408.20" y="1102.81" width="34.80" height="4.69" fill="#A2A1A6" stroke="#000" stroke-width="2.35"/>
<rect x="1408.20" y="1042.07" width="34.80" height="60.75" fill="#E69A4B" stroke="#000" stroke-width="2.35"/>
<rect x="1408.20" y="1020.37" width="34.80" height="21.70" fill="#6DCAEF" stroke="#000" stroke-width="2.35"/>
<rect x="1464.80" y="1102.81" width="34.80" height="4.69" fill="#A2A1A6" stroke="#000" stroke-width="2.35"/>
<rect x="1578.00" y="1048.84" width="34.80" height="58.66" fill="#6DCAEF" stroke="#000" stroke-width="2.35"/>
<line x1="821.80" y1="672.50" x2="821.80" y2="1108.60" stroke="#000" stroke-width="2.35" stroke-linecap="butt"/>
<line x1="806.30" y1="1107.50" x2="821.80" y2="1107.50" stroke="#000" stroke-width="2.35" stroke-linecap="butt"/>
<text x="802.30" y="1116.40" font-size="26.67" text-anchor="end" font-weight="bold" fill="#000">0</text>
<line x1="806.30" y1="1020.72" x2="821.80" y2="1020.72" stroke="#000" stroke-width="2.35" stroke-linecap="butt"/>
<text x="802.30" y="1029.62" font-size="26.67" text-anchor="end" font-weight="bold" fill="#000">5</text>
<line x1="806.30" y1="933.94" x2="821.80" y2="933.94" stroke="#000" stroke-width="2.35" stroke-linecap="butt"/>
<text x="802.30" y="942.84" font-size="26.67" text-anchor="end" font-weight="bold" fill="#000">10</text>
<line x1="806.30" y1="847.16" x2="821.80" y2="847.16" stroke="#000" stroke-width="2.35" stroke-linecap="butt"/>
<text x="802.30" y="856.06" font-size="26.67" text-anchor="end" font-weight="bold" fill="#000">15</text>
<line x1="806.30" y1="760.38" x2="821.80" y2="760.38" stroke="#000" stroke-width="2.35" stroke-linecap="butt"/>
<text x="802.30" y="769.28" font-size="26.67" text-anchor="end" font-weight="bold" fill="#000">20</text>
<line x1="806.30" y1="673.60" x2="821.80" y2="673.60" stroke="#000" stroke-width="2.35" stroke-linecap="butt"/>
<text x="802.30" y="682.50" font-size="26.67" text-anchor="end" font-weight="bold" fill="#000">25</text>
<line x1="806.30" y1="1107.50" x2="1692.50" y2="1107.50" stroke="#000" stroke-width="2.35" stroke-linecap="butt"/>
<line x1="859.60" y1="1107.50" x2="859.60" y2="1122.30" stroke="#000" stroke-width="2.35" stroke-linecap="butt"/>
<text x="870.60" y="1144.50" font-size="26.67" text-anchor="end" font-weight="bold" transform="rotate(-45 870.60 1144.50)" fill="#000" stroke="#000" stroke-width="0.35">CREBBP</text>
<line x1="916.20" y1="1107.50" x2="916.20" y2="1122.30" stroke="#000" stroke-width="2.35" stroke-linecap="butt"/>
<text x="927.20" y="1144.50" font-size="26.67" text-anchor="end" font-weight="bold" transform="rotate(-45 927.20 1144.50)" fill="#000" stroke="#000" stroke-width="0.35">KDM6A</text>
<line x1="972.80" y1="1107.50" x2="972.80" y2="1122.30" stroke="#000" stroke-width="2.35" stroke-linecap="butt"/>
<text x="983.80" y="1144.50" font-size="26.67" text-anchor="end" font-weight="bold" transform="rotate(-45 983.80 1144.50)" fill="#000" stroke="#000" stroke-width="0.35">ATF7IP</text>
<line x1="1029.40" y1="1107.50" x2="1029.40" y2="1122.30" stroke="#000" stroke-width="2.35" stroke-linecap="butt"/>
<text x="1040.40" y="1144.50" font-size="26.67" text-anchor="end" font-weight="bold" transform="rotate(-45 1040.40 1144.50)" fill="#000" stroke="#000" stroke-width="0.35">BTG1</text>
<line x1="1086.00" y1="1107.50" x2="1086.00" y2="1122.30" stroke="#000" stroke-width="2.35" stroke-linecap="butt"/>
<text x="1097.00" y="1144.50" font-size="26.67" text-anchor="end" font-weight="bold" transform="rotate(-45 1097.00 1144.50)" fill="#000" stroke="#000" stroke-width="0.35">TOX</text>
<line x1="1142.60" y1="1107.50" x2="1142.60" y2="1122.30" stroke="#000" stroke-width="2.35" stroke-linecap="butt"/>
<text x="1153.60" y="1144.50" font-size="26.67" text-anchor="end" font-weight="bold" transform="rotate(-45 1153.60 1144.50)" fill="#000" stroke="#000" stroke-width="0.35">KDM6B</text>
<line x1="1199.20" y1="1107.50" x2="1199.20" y2="1122.30" stroke="#000" stroke-width="2.35" stroke-linecap="butt"/>
<text x="1210.20" y="1144.50" font-size="26.67" text-anchor="end" font-weight="bold" transform="rotate(-45 1210.20 1144.50)" fill="#000" stroke="#000" stroke-width="0.35">CDKN2B</text>
<line x1="1255.80" y1="1107.50" x2="1255.80" y2="1122.30" stroke="#000" stroke-width="2.35" stroke-linecap="butt"/>
<text x="1266.80" y="1144.50" font-size="26.67" text-anchor="end" font-weight="bold" transform="rotate(-45 1266.80 1144.50)" fill="#000" stroke="#000" stroke-width="0.35">IKZF1</text>
<line x1="1312.40" y1="1107.50" x2="1312.40" y2="1122.30" stroke="#000" stroke-width="2.35" stroke-linecap="butt"/>
<text x="1323.40" y="1144.50" font-size="26.67" text-anchor="end" font-weight="bold" transform="rotate(-45 1323.40 1144.50)" fill="#000" stroke="#000" stroke-width="0.35">CDKN2A</text>
<line x1="1369.00" y1="1107.50" x2="1369.00" y2="1122.30" stroke="#000" stroke-width="2.35" stroke-linecap="butt"/>
<text x="1380.00" y="1144.50" font-size="26.67" text-anchor="end" font-weight="bold" transform="rotate(-45 1380.00 1144.50)" fill="#000" stroke="#000" stroke-width="0.35">RB1</text>
<line x1="1425.60" y1="1107.50" x2="1425.60" y2="1122.30" stroke="#000" stroke-width="2.35" stroke-linecap="butt"/>
<text x="1436.60" y="1144.50" font-size="26.67" text-anchor="end" font-weight="bold" transform="rotate(-45 1436.60 1144.50)" fill="#000" stroke="#000" stroke-width="0.35">PAX5</text>
<line x1="1482.20" y1="1107.50" x2="1482.20" y2="1122.30" stroke="#000" stroke-width="2.35" stroke-linecap="butt"/>
<text x="1493.20" y="1144.50" font-size="26.67" text-anchor="end" font-weight="bold" transform="rotate(-45 1493.20 1144.50)" fill="#000" stroke="#000" stroke-width="0.35">BTLA</text>
<line x1="1538.80" y1="1107.50" x2="1538.80" y2="1122.30" stroke="#000" stroke-width="2.35" stroke-linecap="butt"/>
<text x="1549.80" y="1144.50" font-size="26.67" text-anchor="end" font-weight="bold" transform="rotate(-45 1549.80 1144.50)" fill="#000" stroke="#000" stroke-width="0.35">ERG</text>
<line x1="1595.40" y1="1107.50" x2="1595.40" y2="1122.30" stroke="#000" stroke-width="2.35" stroke-linecap="butt"/>
<text x="1606.40" y="1144.50" font-size="26.67" text-anchor="end" font-weight="bold" transform="rotate(-45 1606.40 1144.50)" fill="#000" stroke="#000" stroke-width="0.35">FPGS</text>
<line x1="1652.00" y1="1107.50" x2="1652.00" y2="1122.30" stroke="#000" stroke-width="2.35" stroke-linecap="butt"/>
<text x="1663.00" y="1144.50" font-size="26.67" text-anchor="end" font-weight="bold" transform="rotate(-45 1663.00 1144.50)" fill="#000" stroke="#000" stroke-width="0.35">CTCF</text>
<text x="761.50" y="896.50" font-size="26.67" text-anchor="middle" font-weight="bold" transform="rotate(-90 761.50 896.50)" fill="#000">SVs per 1000 SVs</text>
<text x="1243.20" y="676.40" font-size="26.67" text-anchor="middle" font-weight="bold" fill="#231815">RAG1(H)+ESC(L)</text>
<text x="1233.7" y="717.2" font-size="22.7" font-weight="bold" fill="#231815" text-anchor="middle"><tspan font-style="italic">P</tspan> = 0.4445</text>
<rect x="903.60" y="1704.57" width="34.80" height="32.63" fill="#6DCAEF" stroke="#000" stroke-width="2.35"/>
<rect x="1016.80" y="1729.56" width="34.80" height="7.64" fill="#A2A1A6" stroke="#000" stroke-width="2.35"/>
<rect x="1016.80" y="1660.31" width="34.80" height="69.25" fill="#6DCAEF" stroke="#000" stroke-width="2.35"/>
<rect x="1073.40" y="1729.56" width="34.80" height="7.64" fill="#A2A1A6" stroke="#000" stroke-width="2.35"/>
<rect x="1073.40" y="1695.37" width="34.80" height="34.19" fill="#E69A4B" stroke="#000" stroke-width="2.35"/>
<rect x="1130.00" y="1729.56" width="34.80" height="7.64" fill="#A2A1A6" stroke="#000" stroke-width="2.35"/>
<rect x="1186.60" y="1729.56" width="34.80" height="7.64" fill="#A2A1A6" stroke="#000" stroke-width="2.35"/>
<rect x="1186.60" y="1591.41" width="34.80" height="138.15" fill="#6DCAEF" stroke="#000" stroke-width="2.35"/>
<rect x="1243.20" y="1720.19" width="34.80" height="17.01" fill="#A2A1A6" stroke="#000" stroke-width="2.35"/>
<rect x="1243.20" y="1525.46" width="34.80" height="194.73" fill="#E69A4B" stroke="#000" stroke-width="2.35"/>
<rect x="1243.20" y="1387.48" width="34.80" height="137.98" fill="#6DCAEF" stroke="#000" stroke-width="2.35"/>
<rect x="1299.80" y="1642.09" width="34.80" height="95.11" fill="#E69A4B" stroke="#000" stroke-width="2.35"/>
<rect x="1299.80" y="1469.40" width="34.80" height="172.69" fill="#6DCAEF" stroke="#000" stroke-width="2.35"/>
<rect x="1356.40" y="1704.57" width="34.80" height="32.63" fill="#6DCAEF" stroke="#000" stroke-width="2.35"/>
<rect x="1413.00" y="1700.75" width="34.80" height="36.45" fill="#A2A1A6" stroke="#000" stroke-width="2.35"/>
<rect x="1413.00" y="1563.12" width="34.80" height="137.63" fill="#6DCAEF" stroke="#000" stroke-width="2.35"/>
<rect x="1469.60" y="1704.57" width="34.80" height="32.63" fill="#6DCAEF" stroke="#000" stroke-width="2.35"/>
<rect x="1526.20" y="1642.09" width="34.80" height="95.11" fill="#E69A4B" stroke="#000" stroke-width="2.35"/>
<rect x="1639.40" y="1720.19" width="34.80" height="17.01" fill="#A2A1A6" stroke="#000" stroke-width="2.35"/>
<line x1="826.50" y1="1302.20" x2="826.50" y2="1738.30" stroke="#000" stroke-width="2.35" stroke-linecap="butt"/>
<line x1="811.00" y1="1737.20" x2="826.50" y2="1737.20" stroke="#000" stroke-width="2.35" stroke-linecap="butt"/>
<text x="808.80" y="1746.10" font-size="26.67" text-anchor="end" font-weight="bold" fill="#000">0</text>
<line x1="811.00" y1="1650.42" x2="826.50" y2="1650.42" stroke="#000" stroke-width="2.35" stroke-linecap="butt"/>
<text x="808.80" y="1659.32" font-size="26.67" text-anchor="end" font-weight="bold" fill="#000">5</text>
<line x1="811.00" y1="1563.64" x2="826.50" y2="1563.64" stroke="#000" stroke-width="2.35" stroke-linecap="butt"/>
<text x="808.80" y="1572.54" font-size="26.67" text-anchor="end" font-weight="bold" fill="#000">10</text>
<line x1="811.00" y1="1476.86" x2="826.50" y2="1476.86" stroke="#000" stroke-width="2.35" stroke-linecap="butt"/>
<text x="808.80" y="1485.76" font-size="26.67" text-anchor="end" font-weight="bold" fill="#000">15</text>
<line x1="811.00" y1="1390.08" x2="826.50" y2="1390.08" stroke="#000" stroke-width="2.35" stroke-linecap="butt"/>
<text x="808.80" y="1398.98" font-size="26.67" text-anchor="end" font-weight="bold" fill="#000">20</text>
<line x1="811.00" y1="1303.30" x2="826.50" y2="1303.30" stroke="#000" stroke-width="2.35" stroke-linecap="butt"/>
<text x="808.80" y="1312.20" font-size="26.67" text-anchor="end" font-weight="bold" fill="#000">25</text>
<line x1="811.00" y1="1737.20" x2="1692.50" y2="1737.20" stroke="#000" stroke-width="2.35" stroke-linecap="butt"/>
<line x1="864.40" y1="1737.20" x2="864.40" y2="1752.00" stroke="#000" stroke-width="2.35" stroke-linecap="butt"/>
<text x="875.40" y="1774.20" font-size="26.67" text-anchor="end" font-weight="bold" transform="rotate(-45 875.40 1774.20)" fill="#000" stroke="#000" stroke-width="0.35">CREBBP</text>
<line x1="921.00" y1="1737.20" x2="921.00" y2="1752.00" stroke="#000" stroke-width="2.35" stroke-linecap="butt"/>
<text x="932.00" y="1774.20" font-size="26.67" text-anchor="end" font-weight="bold" transform="rotate(-45 932.00 1774.20)" fill="#000" stroke="#000" stroke-width="0.35">KDM6A</text>
<line x1="977.60" y1="1737.20" x2="977.60" y2="1752.00" stroke="#000" stroke-width="2.35" stroke-linecap="butt"/>
<text x="988.60" y="1774.20" font-size="26.67" text-anchor="end" font-weight="bold" transform="rotate(-45 988.60 1774.20)" fill="#000" stroke="#000" stroke-width="0.35">ATF7IP</text>
<line x1="1034.20" y1="1737.20" x2="1034.20" y2="1752.00" stroke="#000" stroke-width="2.35" stroke-linecap="butt"/>
<text x="1045.20" y="1774.20" font-size="26.67" text-anchor="end" font-weight="bold" transform="rotate(-45 1045.20 1774.20)" fill="#000" stroke="#000" stroke-width="0.35">BTG1</text>
<line x1="1090.80" y1="1737.20" x2="1090.80" y2="1752.00" stroke="#000" stroke-width="2.35" stroke-linecap="butt"/>
<text x="1101.80" y="1774.20" font-size="26.67" text-anchor="end" font-weight="bold" transform="rotate(-45 1101.80 1774.20)" fill="#000" stroke="#000" stroke-width="0.35">TOX</text>
<line x1="1147.40" y1="1737.20" x2="1147.40" y2="1752.00" stroke="#000" stroke-width="2.35" stroke-linecap="butt"/>
<text x="1158.40" y="1774.20" font-size="26.67" text-anchor="end" font-weight="bold" transform="rotate(-45 1158.40 1774.20)" fill="#000" stroke="#000" stroke-width="0.35">KDM6B</text>
<line x1="1204.00" y1="1737.20" x2="1204.00" y2="1752.00" stroke="#000" stroke-width="2.35" stroke-linecap="butt"/>
<text x="1215.00" y="1774.20" font-size="26.67" text-anchor="end" font-weight="bold" transform="rotate(-45 1215.00 1774.20)" fill="#000" stroke="#000" stroke-width="0.35">CDKN2B</text>
<line x1="1260.60" y1="1737.20" x2="1260.60" y2="1752.00" stroke="#000" stroke-width="2.35" stroke-linecap="butt"/>
<text x="1271.60" y="1774.20" font-size="26.67" text-anchor="end" font-weight="bold" transform="rotate(-45 1271.60 1774.20)" fill="#000" stroke="#000" stroke-width="0.35">IKZF1</text>
<line x1="1317.20" y1="1737.20" x2="1317.20" y2="1752.00" stroke="#000" stroke-width="2.35" stroke-linecap="butt"/>
<text x="1328.20" y="1774.20" font-size="26.67" text-anchor="end" font-weight="bold" transform="rotate(-45 1328.20 1774.20)" fill="#000" stroke="#000" stroke-width="0.35">CDKN2A</text>
<line x1="1373.80" y1="1737.20" x2="1373.80" y2="1752.00" stroke="#000" stroke-width="2.35" stroke-linecap="butt"/>
<text x="1384.80" y="1774.20" font-size="26.67" text-anchor="end" font-weight="bold" transform="rotate(-45 1384.80 1774.20)" fill="#000" stroke="#000" stroke-width="0.35">RB1</text>
<line x1="1430.40" y1="1737.20" x2="1430.40" y2="1752.00" stroke="#000" stroke-width="2.35" stroke-linecap="butt"/>
<text x="1441.40" y="1774.20" font-size="26.67" text-anchor="end" font-weight="bold" transform="rotate(-45 1441.40 1774.20)" fill="#000" stroke="#000" stroke-width="0.35">PAX5</text>
<line x1="1487.00" y1="1737.20" x2="1487.00" y2="1752.00" stroke="#000" stroke-width="2.35" stroke-linecap="butt"/>
<text x="1498.00" y="1774.20" font-size="26.67" text-anchor="end" font-weight="bold" transform="rotate(-45 1498.00 1774.20)" fill="#000" stroke="#000" stroke-width="0.35">BTLA</text>
<line x1="1543.60" y1="1737.20" x2="1543.60" y2="1752.00" stroke="#000" stroke-width="2.35" stroke-linecap="butt"/>
<text x="1554.60" y="1774.20" font-size="26.67" text-anchor="end" font-weight="bold" transform="rotate(-45 1554.60 1774.20)" fill="#000" stroke="#000" stroke-width="0.35">ERG</text>
<line x1="1600.20" y1="1737.20" x2="1600.20" y2="1752.00" stroke="#000" stroke-width="2.35" stroke-linecap="butt"/>
<text x="1611.20" y="1774.20" font-size="26.67" text-anchor="end" font-weight="bold" transform="rotate(-45 1611.20 1774.20)" fill="#000" stroke="#000" stroke-width="0.35">FPGS</text>
<line x1="1656.80" y1="1737.20" x2="1656.80" y2="1752.00" stroke="#000" stroke-width="2.35" stroke-linecap="butt"/>
<text x="1667.80" y="1774.20" font-size="26.67" text-anchor="end" font-weight="bold" transform="rotate(-45 1667.80 1774.20)" fill="#000" stroke="#000" stroke-width="0.35">CTCF</text>
<text x="761.50" y="1523.90" font-size="26.67" text-anchor="middle" font-weight="bold" transform="rotate(-90 761.50 1523.90)" fill="#000">SVs per 1000 SVs</text>
<text x="1243.20" y="1297.00" font-size="26.67" text-anchor="middle" font-weight="bold" fill="#231815">RAG1(H)+ESC(H)</text>
<text x="1254.8" y="1335.1" font-size="22.7" font-weight="bold" fill="#231815" text-anchor="middle"><tspan font-style="italic">P</tspan> = 9.44e-07</text>
<rect x="1031.70" y="1896.80" width="19.30" height="18.60" fill="#6DCAEF" stroke="#000" stroke-width="2.35"/>
<text x="1104.50" y="1918.20" font-size="26.67" font-weight="bold" fill="#000">SVs with a single cRSS</text>
<rect x="1031.70" y="1956.50" width="19.30" height="18.60" fill="#E69A4B" stroke="#000" stroke-width="2.35"/>
<text x="1104.50" y="1978.00" font-size="26.67" font-weight="bold" fill="#000">SVs with pairs of cRSSs</text>
<rect x="1031.70" y="2020.60" width="19.30" height="18.60" fill="#A2A1A6" stroke="#000" stroke-width="2.35"/>
<text x="1104.50" y="2041.90" font-size="26.67" font-weight="bold" fill="#000">SVs with no cRSS</text>
<defs>
<linearGradient id="gelg" x1="0" y1="0" x2="0" y2="1"><stop offset="0" stop-color="#e8e8e8"/><stop offset="0.12" stop-color="#e5e5e5"/><stop offset="0.55" stop-color="#e3e3e3"/><stop offset="0.76" stop-color="#e8e8e8"/><stop offset="0.88" stop-color="#f1f1f1"/><stop offset="1" stop-color="#f5f5f5"/></linearGradient>
<filter id="b1" x="-20%" y="-100%" width="140%" height="300%"><feGaussianBlur stdDeviation="1.2 1.0"/></filter>
<filter id="b2" x="-20%" y="-100%" width="140%" height="300%"><feGaussianBlur stdDeviation="2.5 2.1"/></filter>
<filter id="b3" x="-20%" y="-150%" width="140%" height="400%"><feGaussianBlur stdDeviation="5 4.6"/></filter>
<filter id="b4" x="-30%" y="-30%" width="160%" height="160%"><feGaussianBlur stdDeviation="6 8"/></filter>
</defs>
<rect x="149.3" y="2184.9" width="466.2" height="426.6" fill="url(#gelg)"/>
<rect x="229" y="2295" width="45" height="73" fill="#000" opacity="0.02" filter="url(#b4)"/>
<rect x="293" y="2290" width="44" height="78" fill="#000" opacity="0.025" filter="url(#b4)"/>
<rect x="417" y="2300" width="48" height="78" fill="#000" opacity="0.012" filter="url(#b4)"/>
<rect x="229" y="2425" width="45" height="75" fill="#fff" opacity="0.1" filter="url(#b4)"/>
<rect x="293" y="2425" width="44" height="75" fill="#fff" opacity="0.1" filter="url(#b4)"/>
<rect x="355" y="2425" width="46" height="75" fill="#fff" opacity="0.07" filter="url(#b4)"/>
<rect x="417" y="2405" width="48" height="75" fill="#fff" opacity="0.07" filter="url(#b4)"/>
<rect x="480" y="2428" width="46" height="72" fill="#fff" opacity="0.07" filter="url(#b4)"/>
<rect x="165.8" y="2218.7" width="50.0" height="7" rx="3" fill="#222" opacity="0.62" filter="url(#b1)"/>
<rect x="165.8" y="2262.7" width="50.0" height="5.2" rx="2.6" fill="#222" opacity="0.45" filter="url(#b1)"/>
<rect x="165.8" y="2273.6" width="50.0" height="5.2" rx="2.6" fill="#222" opacity="0.45" filter="url(#b1)"/>
<rect x="165.8" y="2287.5" width="50.0" height="4.8" rx="2.4" fill="#222" opacity="0.42" filter="url(#b1)"/>
<rect x="165.8" y="2304.3" width="50.0" height="4.6" rx="2.3" fill="#222" opacity="0.42" filter="url(#b1)"/>
<rect x="165.8" y="2321.7" width="50.0" height="4.6" rx="2.3" fill="#222" opacity="0.4" filter="url(#b1)"/>
<rect x="165.8" y="2342.9" width="50.0" height="7" rx="3" fill="#222" opacity="0.88" filter="url(#b1)"/>
<rect x="165.8" y="2370.1" width="50.0" height="5.5" rx="2.75" fill="#222" opacity="0.42" filter="url(#b1)"/>
<rect x="165.8" y="2400.8" width="50.0" height="6.5" rx="3" fill="#222" opacity="0.22" filter="url(#b2)"/>
<rect x="165.8" y="2440.7" width="50.0" height="9" rx="3" fill="#222" opacity="0.22" filter="url(#b2)"/>
<rect x="165.8" y="2493.5" width="50.0" height="10" rx="3" fill="#222" opacity="0.12" filter="url(#b3)"/>
<rect x="227.6" y="2373.4" width="48.0" height="6.5" rx="3" fill="#333" opacity="0.2" filter="url(#b2)"/>
<rect x="227.6" y="2383.6" width="48.0" height="6.5" rx="3" fill="#333" opacity="0.34" filter="url(#b2)"/>
<rect x="227.6" y="2407.7" width="48.0" height="7.5" rx="3" fill="#222" opacity="0.55" filter="url(#b2)"/>
<rect x="291.5" y="2373.4" width="46.9" height="6.5" rx="3" fill="#333" opacity="0.24" filter="url(#b2)"/>
<rect x="291.5" y="2383.6" width="46.9" height="6.5" rx="3" fill="#333" opacity="0.42" filter="url(#b2)"/>
<rect x="291.5" y="2407.7" width="46.9" height="7.5" rx="3" fill="#222" opacity="0.45" filter="url(#b2)"/>
<rect x="353.3" y="2408.5" width="49.6" height="8" rx="3" fill="#111" opacity="0.85" filter="url(#b2)"/>
<rect x="415.1" y="2383.8" width="51.6" height="13" rx="3" fill="#000" opacity="1" filter="url(#b1)"/>
<rect x="417.1" y="2385.3" width="47.6" height="10" rx="3" fill="#000" opacity="1" filter="url(#b1)"/>
<rect x="419.1" y="2447.5" width="43.6" height="7" rx="3" fill="#444" opacity="0.08" filter="url(#b3)"/>
<rect x="419.1" y="2493.0" width="43.6" height="8" rx="3" fill="#444" opacity="0.14" filter="url(#b3)"/>
<rect x="478.0" y="2410.5" width="49.6" height="8" rx="3" fill="#111" opacity="0.8" filter="url(#b2)"/>
<rect x="228.6" y="2508.0" width="46.0" height="16" rx="3" fill="#3c3c3c" opacity="0.4536" filter="url(#b3)"/>
<rect x="292.5" y="2508.0" width="44.9" height="16" rx="3" fill="#3c3c3c" opacity="0.4536" filter="url(#b3)"/>
<rect x="354.3" y="2509.0" width="47.6" height="16" rx="3" fill="#3c3c3c" opacity="0.48600000000000004" filter="url(#b3)"/>
<rect x="416.1" y="2510.0" width="49.6" height="16" rx="3" fill="#3c3c3c" opacity="0.324" filter="url(#b3)"/>
<rect x="479.0" y="2511.5" width="47.6" height="16" rx="3" fill="#3c3c3c" opacity="0.4536" filter="url(#b3)"/>
<rect x="541.0" y="2513.0" width="46.0" height="16" rx="3" fill="#3c3c3c" opacity="0.5940000000000001" filter="url(#b3)"/>
<text x="76.50" y="2074.30" font-size="26.67" fill="#000">Relapse</text>
<text x="54.50" y="2120.20" font-size="26.67" fill="#000">Diagnosis</text>
<line x1="241.40" y1="2067.70" x2="254.60" y2="2067.70" stroke="#000" stroke-width="3.0" stroke-linecap="butt"/>
<line x1="239.70" y1="2108.70" x2="256.30" y2="2108.70" stroke="#000" stroke-width="2.7" stroke-linecap="butt"/>
<line x1="248.00" y1="2100.40" x2="248.00" y2="2117.00" stroke="#000" stroke-width="2.7" stroke-linecap="butt"/>
<line x1="301.50" y1="2071.80" x2="318.10" y2="2071.80" stroke="#000" stroke-width="2.7" stroke-linecap="butt"/>
<line x1="309.80" y1="2063.50" x2="309.80" y2="2080.10" stroke="#000" stroke-width="2.7" stroke-linecap="butt"/>
<line x1="303.20" y1="2108.70" x2="316.40" y2="2108.70" stroke="#000" stroke-width="3.0" stroke-linecap="butt"/>
<line x1="368.40" y1="2067.70" x2="381.60" y2="2067.70" stroke="#000" stroke-width="3.0" stroke-linecap="butt"/>
<line x1="366.70" y1="2108.70" x2="383.30" y2="2108.70" stroke="#000" stroke-width="2.7" stroke-linecap="butt"/>
<line x1="375.00" y1="2100.40" x2="375.00" y2="2117.00" stroke="#000" stroke-width="2.7" stroke-linecap="butt"/>
<line x1="431.20" y1="2067.70" x2="444.40" y2="2067.70" stroke="#000" stroke-width="3.0" stroke-linecap="butt"/>
<line x1="429.50" y1="2108.70" x2="446.10" y2="2108.70" stroke="#000" stroke-width="2.7" stroke-linecap="butt"/>
<line x1="437.80" y1="2100.40" x2="437.80" y2="2117.00" stroke="#000" stroke-width="2.7" stroke-linecap="butt"/>
<text x="185.20" y="2168.60" font-size="26.67" text-anchor="middle" fill="#000">M</text>
<text x="249.20" y="2168.60" font-size="26.67" text-anchor="middle" fill="#000">R-8</text>
<text x="311.50" y="2168.60" font-size="26.67" text-anchor="middle" fill="#000">R-8</text>
<text x="375.90" y="2168.60" font-size="26.67" text-anchor="middle" fill="#000">NR</text>
<text x="440.90" y="2168.60" font-size="26.67" text-anchor="middle" fill="#000">R</text>
<text x="504.40" y="2168.60" font-size="26.67" text-anchor="middle" fill="#000">REH</text>
<text x="585.80" y="2168.60" font-size="26.67" text-anchor="middle" fill="#000">ddH₂O</text>
<text x="116.60" y="2226.20" font-size="26.67" text-anchor="end" fill="#000">1500</text>
<line x1="126.90" y1="2221.60" x2="148.80" y2="2221.60" stroke="#000" stroke-width="2.7" stroke-linecap="butt"/>
<text x="116.60" y="2270.40" font-size="26.67" text-anchor="end" fill="#000">1000</text>
<line x1="126.90" y1="2261.70" x2="148.80" y2="2261.70" stroke="#000" stroke-width="2.7" stroke-linecap="butt"/>
<text x="116.60" y="2348.60" font-size="26.67" text-anchor="end" fill="#000">500</text>
<line x1="126.90" y1="2342.40" x2="148.80" y2="2342.40" stroke="#000" stroke-width="2.7" stroke-linecap="butt"/>
<text x="116.60" y="2408.00" font-size="26.67" text-anchor="end" fill="#000">300</text>
<line x1="126.90" y1="2401.70" x2="148.80" y2="2401.70" stroke="#000" stroke-width="2.7" stroke-linecap="butt"/>
<text x="116.60" y="2448.50" font-size="26.67" text-anchor="end" fill="#000">200</text>
<line x1="126.90" y1="2442.30" x2="148.80" y2="2442.30" stroke="#000" stroke-width="2.7" stroke-linecap="butt"/>
<text x="116.60" y="2503.50" font-size="26.67" text-anchor="end" fill="#000">100</text>
<line x1="126.90" y1="2496.70" x2="148.80" y2="2496.70" stroke="#000" stroke-width="2.7" stroke-linecap="butt"/>
<line x1="630.00" y1="2386.50" x2="659.80" y2="2386.50" stroke="#000" stroke-width="2.8" stroke-linecap="butt"/>
<path d="M617.9 2386.5 L632.8 2379.1 L632.8 2393.9 Z" fill="#000"/>
<line x1="630.00" y1="2411.50" x2="659.80" y2="2411.50" stroke="#000" stroke-width="2.8" stroke-linecap="butt"/>
<path d="M617.9 2411.5 L632.8 2404.1 L632.8 2418.9 Z" fill="#000"/>
<line x1="630.00" y1="2517.10" x2="659.80" y2="2517.10" stroke="#000" stroke-width="2.8" stroke-linecap="butt"/>
<path d="M617.9 2517.1 L632.8 2509.7 L632.8 2524.5 Z" fill="#000"/>
<text x="675.30" y="2396.60" font-size="26.67" fill="#000">339 bp</text>
<text x="675.30" y="2427.40" font-size="26.67" fill="#000">272 bp</text>
<text x="675.00" y="2526.60" font-size="26.67" fill="#000">PCR primers</text>
<text x="0.80" y="2656.90" font-size="26.67" fill="#000">Per cent 339 bp</text>
<text x="0.80" y="2704.50" font-size="26.67" fill="#000">Per cent 272 bp</text>
<text x="233.60" y="2656.90" font-size="26.67" fill="#000">37</text>
<text x="291.40" y="2656.90" font-size="26.67" fill="#000">49</text>
<text x="233.60" y="2704.50" font-size="26.67" fill="#000">63</text>
<text x="291.40" y="2704.50" font-size="26.67" fill="#000">51</text>
</svg>
</body></html>
